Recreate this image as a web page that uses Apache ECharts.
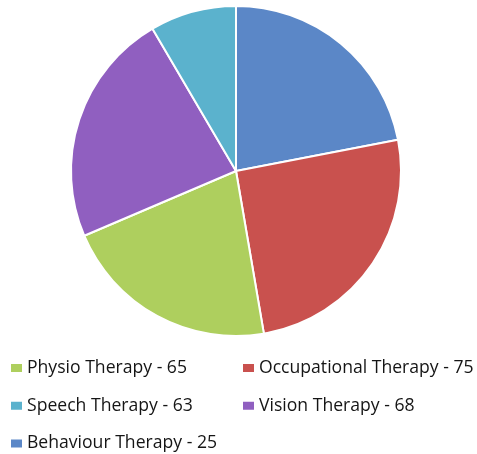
<!DOCTYPE html>
<html>
<head>
<meta charset="utf-8">
<script src="https://cdn.jsdelivr.net/npm/echarts@6/dist/echarts.min.js"></script>
<style>
html,body{margin:0;padding:0;background:#fff;}
#c{width:477px;height:454px;}
</style>
</head>
<body>
<div id="c"></div>
<script>
// Data
var categories = ['Physio Therapy', 'Occupational Therapy', 'Speech Therapy', 'Vision Therapy', 'Behaviour Therapy'];
var values = [65, 75, 63, 68, 25];
// Slice colours in drawing order (clockwise from top)
var sliceColors = ['#5b87c7', '#c9514e', '#aecf5e', '#905fc0', '#5bb2cd'];
// Legend swatch colours as shown in the reference legend
var legendColors = ['#aecf5e', '#c9514e', '#5bb2cd', '#905fc0', '#5b87c7'];

var chart = echarts.init(document.getElementById('c'), null, {renderer: 'canvas'});

function legendItem(i) {
  return {name: categories[i], itemStyle: {color: legendColors[i]}};
}
function fmt(name) {
  var i = categories.indexOf(name);
  return name + ' - ' + values[i];
}
var legendCommon = {
  orient: 'vertical',
  icon: 'rect',
  itemWidth: 13,
  itemHeight: 10,
  itemGap: 17.7,
  selectedMode: false,
  formatter: fmt,
  textStyle: {fontFamily: 'Open Sans', fontSize: 17.6, color: '#151515', lineHeight: 20, padding: [0, 0, 0, -1]},
  padding: 0
};

chart.setOption({
  animation: false,
  legend: [
    Object.assign({}, legendCommon, {left: 9, top: 358, data: [legendItem(0), legendItem(2), legendItem(4)]}),
    Object.assign({}, legendCommon, {left: 241, top: 358, data: [legendItem(1), legendItem(3)]})
  ],
  series: [{
    type: 'pie',
    center: [236, 171],
    radius: 165,
    startAngle: 90,
    clockwise: true,
    label: {show: false},
    labelLine: {show: false},
    emphasis: {disabled: true},
    itemStyle: {borderColor: '#fff', borderWidth: 2},
    data: categories.map(function (c, i) {
      return {name: c, value: values[i], itemStyle: {color: sliceColors[i]}};
    })
  }]
});
</script>
</body>
</html>
